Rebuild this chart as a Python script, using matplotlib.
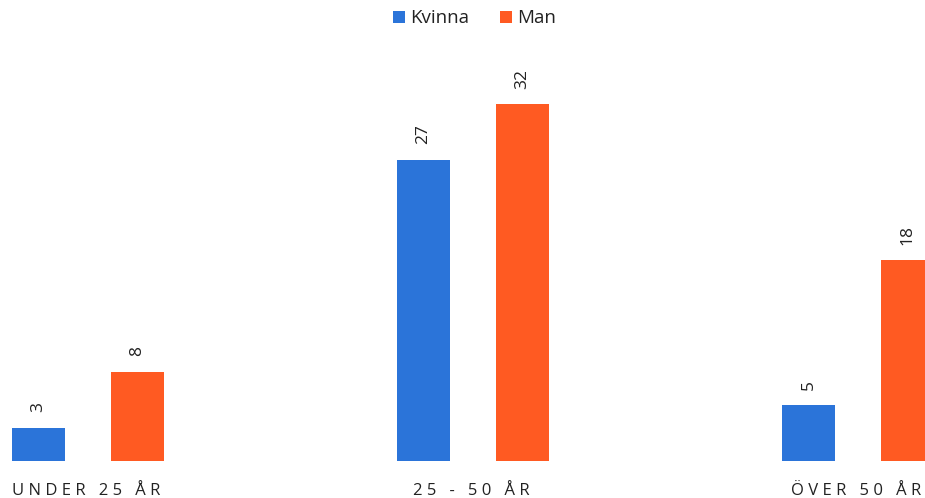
import matplotlib
matplotlib.use("Agg")
import matplotlib.pyplot as plt
import numpy as np

categories = ["UNDER 25 ÅR", "25 - 50 ÅR", "ÖVER 50 ÅR"]
series_names = ["Kvinna", "Man"]
kvinna = [3, 27, 5]
man = [8, 32, 18]

colors = ["#2B74D9", "#FF5A22"]

plt.rcParams['font.family'] = ['Open Sans', 'DejaVu Sans']

fig = plt.figure(figsize=(9.25, 4.98), dpi=100)
ax = fig.add_axes([0, 0, 1, 1])
ax.set_axis_off()

x = np.arange(len(categories))
w = 0.1377
off = 0.1286
b1 = ax.bar(x - off, kvinna, w, color=colors[0], label=series_names[0])
b2 = ax.bar(x + off, man, w, color=colors[1], label=series_names[1])

ax.set_xlim(-0.2286, 2.174)
ax.set_ylim(-3.315, 41.31)

for bars, vals in [(b1, kvinna), (b2, man)]:
    for r, v in zip(bars, vals):
        ax.annotate(str(v), (r.get_x() + r.get_width() / 2, r.get_height()),
                    xytext=(0, 11), textcoords="offset points",
                    rotation=90, ha="center", va="bottom",
                    fontsize=12.5, color="#222222")

for xi, c in zip(x, categories):
    spaced = " ".join(c)
    ax.text(xi - 0.004, -2.7, spaced, ha="center", va="center",
            fontsize=12, color="#222222")

leg = fig.legend(handles=[b1, b2], labels=series_names, loc="center",
                 bbox_to_anchor=(0.513, 0.963), ncol=2, frameon=False,
                 fontsize=13.5, handlelength=0.65, handleheight=0.65,
                 handletextpad=0.3, columnspacing=1.6)
for t in leg.get_texts():
    t.set_color("#222222")

fig.savefig("out.png", dpi=100)
